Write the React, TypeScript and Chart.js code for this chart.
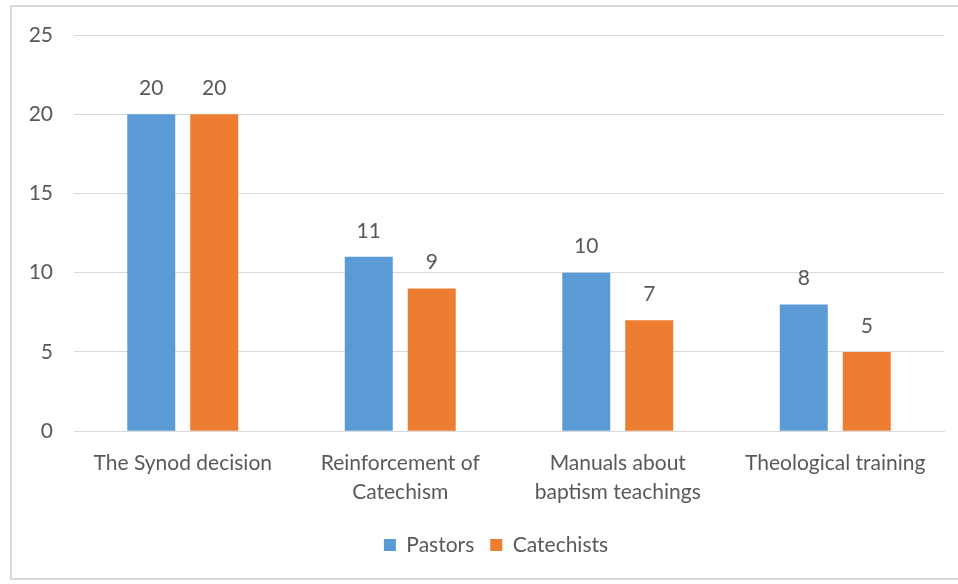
import React, { useEffect, useRef } from "react";
import { Chart, registerables } from "chart.js";

Chart.register(...registerables);

const categories: (string | string[])[] = [
  "The Synod decision",
  ["Reinforcement of", "Catechism"],
  ["Manuals about", "baptism teachings"],
  "Theological training",
];
const pastors = [20, 11, 10, 8];
const catechists = [20, 9, 7, 5];
const yTicks = [0, 5, 10, 15, 20, 25];

const FONT = "Lato, 'Open Sans', sans-serif";
const TEXT = "#595959";
const FS = 21;

const valueLabels = {
  id: "valueLabels",
  afterDatasetsDraw(chart: any) {
    const ctx = chart.ctx;
    ctx.save();
    ctx.font = `${FS}px ${FONT}`;
    ctx.fillStyle = TEXT;
    ctx.textAlign = "center";
    ctx.textBaseline = "middle";
    chart.data.datasets.forEach((ds: any, i: number) => {
      const meta = chart.getDatasetMeta(i);
      meta.data.forEach((bar: any, j: number) => {
        ctx.fillText(String(ds.data[j]), bar.x, bar.y - 26);
      });
    });
    ctx.restore();
  },
};

const legendShift = {
  id: "legendShift",
  afterLayout(chart: any) {
    if (chart.legend) {
      chart.legend.left += 48;
    }
  },
};

export default function App() {
  const ref = useRef<HTMLCanvasElement>(null);
  useEffect(() => {
    if (!ref.current) return;
    const chart = new Chart(ref.current, {
      type: "bar",
      data: {
        labels: categories,
        datasets: [
          {
            label: "Pastors",
            data: pastors,
            backgroundColor: "#5B9BD5",
            categoryPercentage: 0.579,
            barPercentage: 0.762,
          },
          {
            label: "Catechists",
            data: catechists,
            backgroundColor: "#ED7D31",
            categoryPercentage: 0.579,
            barPercentage: 0.762,
          },
        ],
      },
      options: {
        animation: false,
        responsive: false,
        layout: { padding: { left: 0, right: 14, top: 35, bottom: 18.4 } },
        scales: {
          x: {
            grid: { display: false, drawTicks: false },
            border: { display: true, color: "#d9d9d9" },
            ticks: {
              color: TEXT,
              font: { family: FONT, size: FS, lineHeight: 1.38 },
              padding: 18,
              maxRotation: 0,
              autoSkip: false,
            },
            afterFit: (s: any) => {
              s.height = 87.4;
            },
          },
          y: {
            min: 0,
            max: 25,
            afterBuildTicks: (s: any) => {
              s.ticks = yTicks.map((v) => ({ value: v }));
            },
            grid: { color: "#d9d9d9", drawTicks: false },
            border: { display: false },
            ticks: {
              color: TEXT,
              font: { family: FONT, size: FS },
              padding: 21,
            },
            afterFit: (s: any) => {
              s.width = 74;
            },
          },
        },
        plugins: {
          legend: {
            position: "bottom",
            labels: {
              color: TEXT,
              font: { family: FONT, size: FS },
              boxWidth: 12,
              boxHeight: 12,
              padding: 16,
            },
          },
          tooltip: { enabled: false },
        },
      },
      plugins: [valueLabels, legendShift],
    });
    return () => chart.destroy();
  }, []);
  return (
    <div style={{ position: "absolute", left: 0, top: 0, width: 958, height: 584, background: "#fff", overflow: "hidden" }}>
      <div
        style={{
          position: "absolute",
          left: 10,
          top: 5,
          width: 980,
          height: 575,
          border: "2px solid #d9d9d9",
          boxSizing: "border-box",
        }}
      />
      <canvas ref={ref} width={958} height={584} style={{ position: "absolute", left: 0, top: 0 }} />
    </div>
  );
}
